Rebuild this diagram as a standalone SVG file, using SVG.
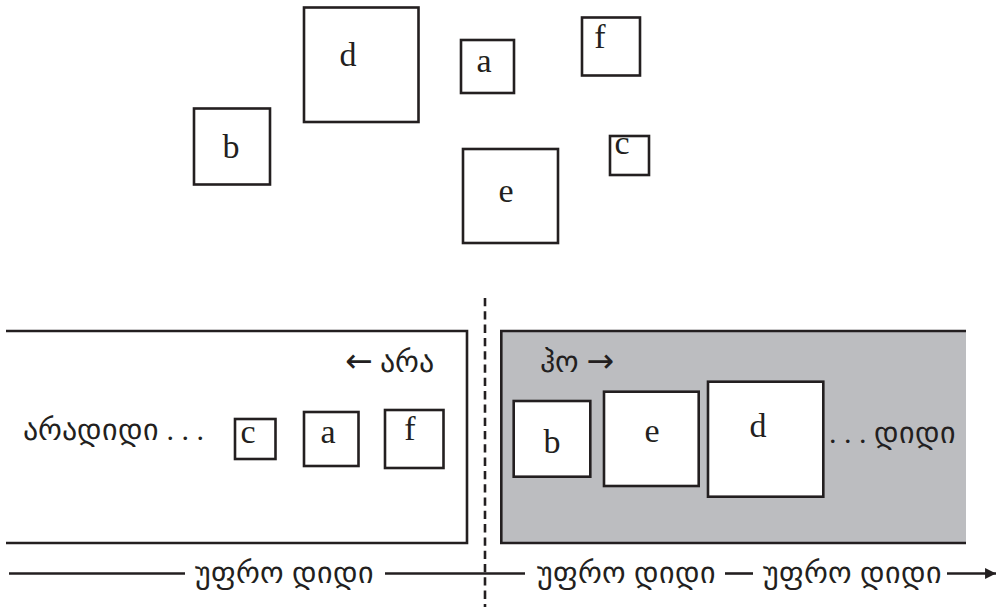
<svg xmlns="http://www.w3.org/2000/svg" width="999" height="607" viewBox="0 0 999 607">
<style>
.box{fill:#ffffff;stroke:#231f20;stroke-width:2.6}
.ln{stroke:#231f20;stroke-width:2.6;fill:none}
.lbl{font-family:'Liberation Serif',serif;font-size:34px;fill:#231f20;text-anchor:middle}
.geo{font-family:'Liberation Serif',serif;font-size:30px;fill:#231f20}
.arw{font-family:'DejaVu Sans',sans-serif;font-size:33px}
</style>
<defs>
<marker id="ah" viewBox="0 0 10 10" refX="10" refY="5" markerWidth="6.5" markerHeight="4.2" markerUnits="strokeWidth" orient="auto">
<path d="M0,0 L10,5 L0,10 z" fill="#231f20"/>
</marker>
</defs>
<rect width="999" height="607" fill="#ffffff"/>

<g id="top-d"><rect class="box" x="304" y="7.5" width="114.5" height="114.5"/><text class="lbl" x="348" y="66">d</text></g>
<g id="top-a"><rect class="box" x="461" y="40" width="53" height="53"/><text class="lbl" x="484" y="72">a</text></g>
<g id="top-f"><rect class="box" x="582" y="17.5" width="58" height="58"/><text class="lbl" x="600" y="48">f</text></g>
<g id="top-b"><rect class="box" x="194" y="108.5" width="76" height="76"/><text class="lbl" x="231" y="158">b</text></g>
<g id="top-c"><rect class="box" x="610" y="136" width="39" height="39"/><text class="lbl" x="622" y="154">c</text></g>
<g id="top-e"><rect class="box" x="463" y="149" width="95" height="94"/><text class="lbl" x="506" y="202">e</text></g>

<g id="no-panel">
<polyline class="ln" points="6,331 467,331 467,543 6,543"/>
<text class="geo" x="345" y="372"><tspan class="arw">←</tspan> არა</text>
<text class="geo" x="23" y="440">არადიდი . . .</text>
</g>
<g id="yes-panel">
<path d="M966,331 L501.3,331 L501.3,543 L966,543 z" fill="#bcbdc0" stroke="none"/>
<polyline class="ln" points="966,331 501.3,331 501.3,543 966,543"/>
<text class="geo" x="540" y="372">ჰო <tspan class="arw">→</tspan></text>
<text class="geo" x="829" y="443">. . . დიდი</text>
</g>

<g id="bot-c"><rect class="box" x="235" y="419" width="40.5" height="40"/><text class="lbl" x="248" y="443">c</text></g>
<g id="bot-a"><rect class="box" x="304" y="412" width="54.5" height="54"/><text class="lbl" x="328" y="443">a</text></g>
<g id="bot-f"><rect class="box" x="385" y="410" width="58.5" height="58"/><text class="lbl" x="410" y="440">f</text></g>
<g id="bot-b"><rect class="box" x="513.7" y="401" width="76.6" height="75.7"/><text class="lbl" x="552" y="453">b</text></g>
<g id="bot-e"><rect class="box" x="604" y="391.7" width="94.7" height="94.3"/><text class="lbl" x="652" y="442">e</text></g>
<g id="bot-d"><rect class="box" x="708" y="381.7" width="115.3" height="115"/><text class="lbl" x="758" y="437">d</text></g>

<g id="axis">
<text class="geo" x="195" y="583">უფრო დიდი</text>
<text class="geo" x="537" y="583">უფრო დიდი</text>
<text class="geo" x="763" y="583">უფრო დიდი</text>
</g>
<g id="connectors">
<line class="ln" x1="9" y1="573.5" x2="185" y2="573.5"/>
<line class="ln" x1="385" y1="573.5" x2="525" y2="573.5"/>
<line class="ln" x1="725" y1="573.5" x2="753" y2="573.5"/>
<line class="ln" x1="947" y1="573.5" x2="996" y2="573.5" marker-end="url(#ah)"/>
<line stroke="#231f20" stroke-width="2.6" stroke-dasharray="8.3,5" x1="485" y1="298" x2="485" y2="607"/>
</g>
</svg>
